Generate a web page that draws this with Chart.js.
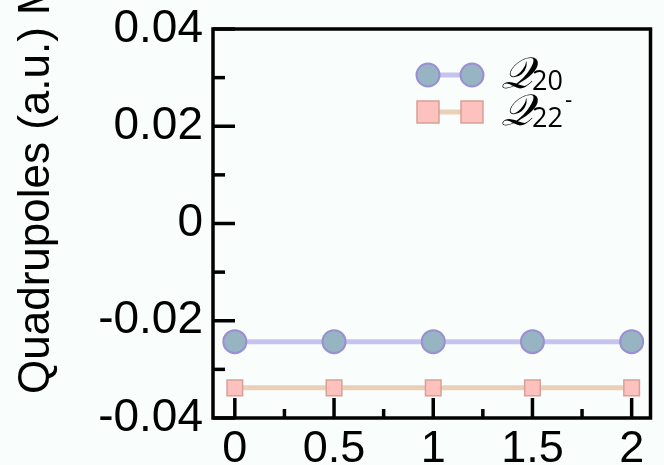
<!DOCTYPE html>
<html>
<head>
<meta charset="utf-8">
<script src="https://cdn.jsdelivr.net/npm/chart.js@4/dist/chart.umd.min.js"></script>
<style>
  html, body { margin: 0; padding: 0; background: #f9fdfc; }
  #wrap { width: 664px; height: 465px; position: relative; }
</style>
</head>
<body>
<div id="wrap"><canvas id="c" width="664" height="465"></canvas></div>
<script>
// ---- data ----
const xValues = [0, 0.5, 1, 1.5, 2];
const q20 = [-0.0243, -0.0243, -0.0243, -0.0243, -0.0243];
const q22 = [-0.0338, -0.0338, -0.0338, -0.0338, -0.0338];
const yTickValues = [-0.04, -0.02, 0, 0.02, 0.04];
const yTickLabels = ['-0.04', '-0.02', '0', '0.02', '0.04'];
const yMinorTicks = [-0.03, -0.01, 0.01, 0.03];
const xTickValues = [0, 0.5, 1, 1.5, 2];
const xTickLabels = ['0', '0.5', '1', '1.5', '2'];
const xMinorTicks = [0.25, 0.75, 1.25, 1.75];
const yTitle = 'Quadrupoles (a.u.) M';
const legendNames = [{main: '\u{1D4AC}', sub: '20', sup: ''}, {main: '\u{1D4AC}', sub: '22', sup: '-'}];

const FONT = "'Liberation Sans', Arial, sans-serif";
const c20 = {fill: '#97b4c3', border: '#9a8fd2', line: '#c6c3ef'};
const c22 = {fill: '#fdc1be', border: '#d8a097', line: '#ebcfb6'};

function toPts(ys) { return xValues.map((x, i) => ({x: x, y: ys[i]})); }

const framePlugin = {
  id: 'frame',
  beforeDatasetsDraw(chart) {
    const {ctx, chartArea: a, scales} = chart;
    const xs = scales.x, ys = scales.y;
    ctx.save();
    ctx.strokeStyle = '#000';
    ctx.lineWidth = 3.5;
    ctx.lineCap = 'butt';
    const tick = (x1, y1, x2, y2) => { ctx.beginPath(); ctx.moveTo(x1, y1); ctx.lineTo(x2, y2); ctx.stroke(); };
    yTickValues.forEach(v => { const p = ys.getPixelForValue(v); tick(a.left, p, a.left + 22, p); });
    yMinorTicks.forEach(v => { const p = ys.getPixelForValue(v); tick(a.left, p, a.left + 12, p); });
    xTickValues.forEach(v => { const p = xs.getPixelForValue(v); tick(p, a.bottom, p, a.bottom - 20); });
    xMinorTicks.forEach(v => { const p = xs.getPixelForValue(v); tick(p, a.bottom, p, a.bottom - 9); });
    ctx.strokeRect(a.left, a.top, a.right - a.left, a.bottom - a.top);
    ctx.restore();
  },
  afterDraw(chart) {
    const {ctx, chartArea: a} = chart;
    ctx.save();
    ctx.translate(49, 394);
    ctx.rotate(-Math.PI / 2);
    ctx.fillStyle = '#000';
    ctx.font = '44px ' + FONT;
    ctx.textAlign = 'left';
    ctx.textBaseline = 'alphabetic';
    ctx.fillText(yTitle, 0, 0);
    ctx.restore();

    // legend
    const lx1 = a.left + 215, lx2 = a.left + 259;
    const rows = [
      {y: a.top + 46, c: c20, shape: 'circle'},
      {y: a.top + 83, c: c22, shape: 'rect'}
    ];
    rows.forEach((r, i) => {
      ctx.save();
      ctx.strokeStyle = r.c.line;
      ctx.lineWidth = 5;
      ctx.beginPath(); ctx.moveTo(lx1, r.y); ctx.lineTo(lx2, r.y); ctx.stroke();
      [lx1, lx2].forEach(x => {
        ctx.fillStyle = r.c.fill;
        ctx.strokeStyle = r.c.border;
        ctx.lineWidth = r.shape === 'circle' ? 2 : 1.5;
        ctx.beginPath();
        if (r.shape === 'circle') ctx.arc(x, r.y, 11.5, 0, Math.PI * 2);
        else ctx.rect(x - 11, r.y - 11, 22, 22);
        ctx.fill(); ctx.stroke();
      });
      const n = legendNames[i];
      ctx.fillStyle = '#000';
      ctx.textBaseline = 'alphabetic';
      ctx.font = 'italic 44px "DejaVu Serif", "DejaVu Sans", serif';
      const tx = a.left + 288;
      ctx.fillText(n.main, tx, r.y + 13);
      const w = ctx.measureText(n.main).width;
      ctx.font = '27px ' + "'Open Sans', 'Noto Sans', sans-serif";
      ctx.fillText(n.sub, tx + w - 1, r.y + 15);
      if (n.sup) {
        const w2 = ctx.measureText(n.sub).width;
        ctx.font = '22px ' + FONT;
        ctx.fillText(n.sup, tx + w + w2 + 1, r.y - 5);
      }
      ctx.restore();
    });
  }
};

new Chart(document.getElementById('c'), {
  type: 'scatter',
  data: {
    datasets: [
      {
        label: 'Q20', data: toPts(q20), showLine: true,
        borderColor: c20.line, borderWidth: 5,
        pointStyle: 'circle', pointRadius: 11.5, pointHoverRadius: 11.5,
        pointBackgroundColor: c20.fill, pointBorderColor: c20.border, pointBorderWidth: 2
      },
      {
        label: 'Q22-', data: toPts(q22), showLine: true,
        borderColor: c22.line, borderWidth: 5,
        pointStyle: 'rect', pointRadius: 11, pointHoverRadius: 11,
        pointBackgroundColor: c22.fill, pointBorderColor: c22.border, pointBorderWidth: 1.5
      }
    ]
  },
  options: {
    responsive: false,
    animation: false,
    events: [],
    layout: { padding: { top: 29, right: 3, left: 0, bottom: 0 } },
    plugins: { legend: { display: false }, tooltip: { enabled: false } },
    scales: {
      x: {
        type: 'linear', min: -0.11, max: 2.095,
        afterBuildTicks: s => { s.ticks = xTickValues.map(v => ({value: v})); },
        afterFit: s => { s.height = 47; s.paddingLeft = 0; s.paddingRight = 0; },
        grid: { display: false, drawTicks: false },
        border: { display: false },
        ticks: {
          padding: 5, color: '#000', maxRotation: 0, autoSkip: false,
          font: { family: FONT, size: 45 },
          callback: (v) => { const i = xTickValues.indexOf(v); return i >= 0 ? xTickLabels[i] : ''; }
        }
      },
      y: {
        type: 'linear', min: -0.04, max: 0.04,
        afterBuildTicks: s => { s.ticks = yTickValues.map(v => ({value: v})); },
        afterFit: s => { s.width = 213; s.paddingTop = 0; s.paddingBottom = 0; },
        grid: { display: false, drawTicks: false },
        border: { display: false },
        ticks: {
          padding: 10, color: '#000', autoSkip: false,
          font: { family: FONT, size: 46 },
          callback: (v) => { const i = yTickValues.indexOf(v); return i >= 0 ? yTickLabels[i] : ''; }
        }
      }
    }
  },
  plugins: [framePlugin]
});
</script>
</body>
</html>
